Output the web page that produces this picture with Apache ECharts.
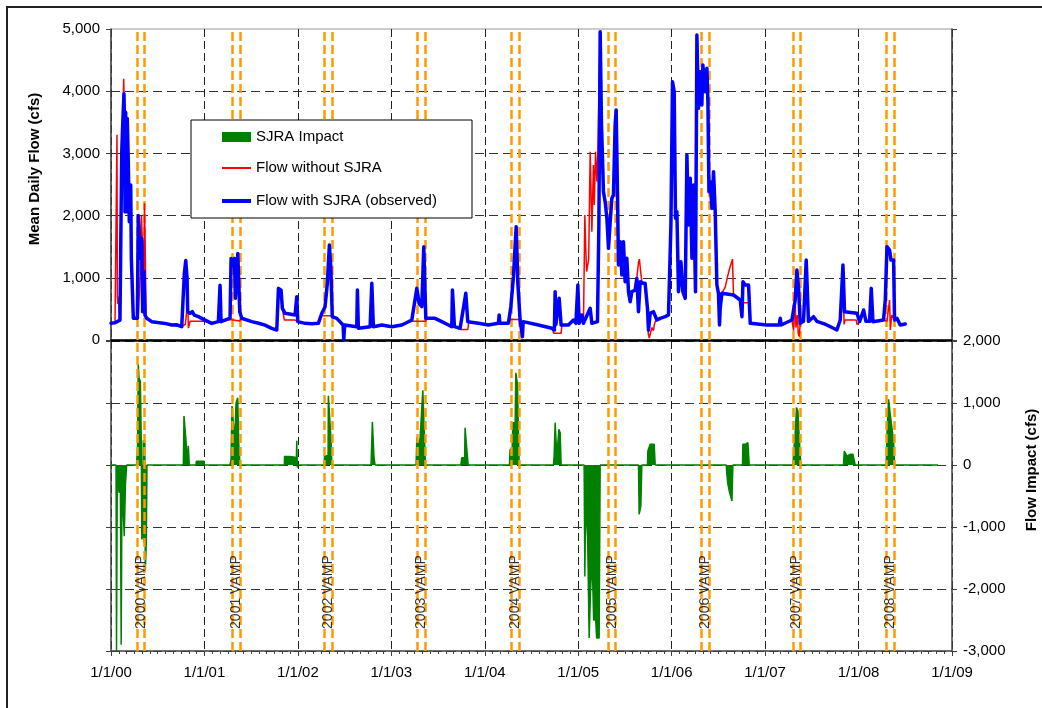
<!DOCTYPE html>
<html>
<head>
<meta charset="utf-8">
<script src="https://cdn.jsdelivr.net/npm/echarts@6/dist/echarts.min.js"></script>
<style>
html,body{margin:0;padding:0;background:#fff;}
#chart{width:1042px;height:708px;}
</style>
</head>
<body>
<div id="chart"></div>
<script>
// ---- data (x = decimal year) ----
const xTickLabels = ['1/1/00','1/1/01','1/1/02','1/1/03','1/1/04','1/1/05','1/1/06','1/1/07','1/1/08','1/1/09'];
const vampLabels = ['2000 VAMP','2001 VAMP','2002 VAMP','2003 VAMP','2004 VAMP','2005 VAMP','2006 VAMP','2007 VAMP','2008 VAMP'];
const vampStart = [2000.278,2001.295,2002.280,2003.279,2004.282,2005.317,2006.323,2007.297,2008.296];
const vampEnd   = [2000.364,2001.381,2002.366,2003.361,2004.368,2005.403,2006.402,2007.375,2008.379];
const seriesNames = ['SJRA Impact','Flow without SJRA','Flow with SJRA (observed)'];

const flowWithSJRA = [
[2000.000,268],[2000.043,278],[2000.096,320],[2000.107,350],[2000.115,3020],[2000.125,3450],[2000.139,3960],[2000.145,3450],[2000.150,2060],[2000.157,3660],[2000.168,2060],[2000.174,3560],[2000.185,2860],[2000.196,1900],[2000.211,2490],[2000.218,1300],[2000.230,1300],[2000.239,350],[2000.257,320],[2000.282,350],[2000.292,2000],[2000.307,2000],[2000.318,1310],[2000.329,1630],[2000.339,455],[2000.353,1100],[2000.364,400],[2000.382,350],[2000.436,295],[2000.500,280],[2000.578,267],[2000.650,240],[2000.700,245],[2000.757,215],[2000.778,190],[2000.785,1070],[2000.800,1280],[2000.814,990],[2000.821,455],[2000.846,430],[2000.870,455],[2000.892,400],[2000.935,375],
[2001.006,320],[2001.078,267],[2001.149,295],[2001.167,880],[2001.178,295],[2001.274,350],[2001.285,1310],[2001.303,1200],[2001.321,1310],[2001.331,670],[2001.357,1390],[2001.378,455],[2001.399,350],[2001.506,295],[2001.580,270],[2001.649,240],[2001.720,187],[2001.774,160],[2001.792,830],[2001.820,800],[2001.834,509],[2001.863,429],[2001.970,402],[2001.988,697],[2001.999,295],
[2002.077,268],[2002.150,260],[2002.219,268],[2002.256,430],[2002.291,536],[2002.315,911],[2002.337,1527],[2002.352,1179],[2002.368,375],[2002.416,348],[2002.484,241],[2002.491,0],[2002.500,241],[2002.630,214],[2002.637,804],[2002.647,188],[2002.773,214],[2002.791,911],[2002.808,214],[2002.898,241],
[2003.005,214],[2003.112,241],[2003.219,321],[2003.273,830],[2003.297,590],[2003.326,536],[2003.347,1500],[2003.369,348],[2003.468,348],[2003.540,295],[2003.611,241],[2003.647,214],[2003.654,804],[2003.675,214],[2003.736,188],[2003.797,750],[2003.818,295],[2003.932,268],
[2004.039,241],[2004.146,268],[2004.154,402],[2004.161,268],[2004.253,268],[2004.279,536],[2004.307,1018],[2004.336,1822],[2004.354,911],[2004.378,321],[2004.403,54],[2004.411,295],[2004.574,241],[2004.718,188],[2004.745,161],[2004.753,777],[2004.761,250],[2004.796,670],[2004.817,241],[2004.895,241],[2004.949,321],[2004.975,268],[2004.996,884],
[2005.010,268],[2005.039,402],[2005.056,268],[2005.128,509],[2005.146,268],[2005.206,295],[2005.221,1850],[2005.235,4957],[2005.249,3457],[2005.260,2920],[2005.270,2385],[2005.288,2224],[2005.307,1956],[2005.324,1474],[2005.342,1903],[2005.360,2278],[2005.377,2331],[2005.395,3457],[2005.406,3698],[2005.420,2385],[2005.431,1206],[2005.449,1581],[2005.467,1045],[2005.484,1581],[2005.502,938],[2005.520,1313],[2005.538,777],[2005.556,616],[2005.574,777],[2005.609,800],[2005.627,991],[2005.645,455],[2005.663,938],[2005.692,911],[2005.716,911],[2005.741,509],[2005.752,160],[2005.770,429],[2005.805,455],[2005.842,322],[2005.877,348],[2005.931,375],[2005.966,402],[2005.992,1850],
[2006.009,4153],[2006.027,3993],[2006.041,1956],[2006.056,2063],[2006.073,777],[2006.099,1259],[2006.120,777],[2006.145,670],[2006.163,2974],[2006.180,1850],[2006.199,2600],[2006.217,1313],[2006.234,2492],[2006.255,777],[2006.270,4903],[2006.287,3725],[2006.305,4314],[2006.323,3778],[2006.334,4421],[2006.359,3993],[2006.377,4368],[2006.388,3832],[2006.399,2385],[2006.412,2545],[2006.431,2117],[2006.448,2706],[2006.466,2063],[2006.484,884],[2006.501,750],[2006.512,241],[2006.519,500],[2006.537,750],[2006.555,723],[2006.662,723],[2006.734,643],[2006.752,375],[2006.763,938],[2006.787,884],[2006.823,884],[2006.841,268],[2006.859,241],
[2007.019,241],[2007.151,241],[2007.162,348],[2007.172,241],[2007.287,321],[2007.322,643],[2007.340,1125],[2007.357,857],[2007.376,268],[2007.411,300],[2007.440,1286],[2007.464,300],[2007.518,375],[2007.554,300],[2007.650,250],[2007.732,188],[2007.768,161],[2007.804,321],[2007.833,1206],[2007.850,455],[2007.983,429],
[2008.011,295],[2008.054,482],[2008.079,300],[2008.118,300],[2008.136,830],[2008.154,295],[2008.267,321],[2008.286,643],[2008.304,1500],[2008.332,1447],[2008.347,1286],[2008.375,1286],[2008.385,321],[2008.411,348],[2008.446,241],[2008.500,257]
];

const flowWithoutSJRA = [
[2000.000,268],[2000.043,278],[2000.058,300],[2000.064,3300],[2000.068,700],[2000.074,580],[2000.080,700],[2000.090,350],[2000.107,350],[2000.115,3020],[2000.125,3450],[2000.136,4200],[2000.145,3450],[2000.150,2060],[2000.157,3660],[2000.168,2060],[2000.174,3560],[2000.185,2860],[2000.196,1900],[2000.211,2490],[2000.218,1300],[2000.230,1300],[2000.239,350],[2000.257,320],[2000.282,350],[2000.292,400],[2000.305,400],[2000.312,1000],[2000.318,1500],[2000.326,2000],[2000.333,1700],[2000.340,1500],[2000.346,800],[2000.352,600],[2000.358,2200],[2000.364,1700],[2000.372,1700],[2000.376,350],[2000.382,350],[2000.436,295],[2000.578,267],[2000.650,240],[2000.757,215],[2000.778,190],[2000.795,250],[2000.815,250],[2000.822,620],[2000.828,190],[2000.846,300],[2000.935,300],
[2001.006,300],[2001.078,267],[2001.149,295],[2001.167,880],[2001.178,295],[2001.274,330],[2001.285,305],[2001.378,305],[2001.399,350],[2001.506,295],[2001.649,240],[2001.720,187],[2001.774,160],[2001.792,830],[2001.820,800],[2001.834,509],[2001.855,321],[2001.970,321],[2001.999,295],
[2002.077,268],[2002.219,268],[2002.256,390],[2002.368,391],[2002.380,375],[2002.416,348],[2002.484,241],[2002.491,0],[2002.500,241],[2002.630,214],[2002.637,804],[2002.647,188],[2002.773,214],[2002.808,214],[2002.898,241],
[2003.005,214],[2003.112,241],[2003.219,300],[2003.369,300],[2003.380,348],[2003.468,348],[2003.540,295],[2003.611,241],[2003.647,214],[2003.654,804],[2003.675,214],[2003.736,170],[2003.818,170],[2003.830,295],[2003.932,268],
[2004.039,241],[2004.146,268],[2004.154,402],[2004.161,268],[2004.253,268],[2004.270,330],[2004.378,330],[2004.385,321],[2004.403,54],[2004.411,295],[2004.574,241],[2004.718,188],[2004.740,107],[2004.817,107],[2004.825,241],[2004.895,241],[2004.949,321],[2004.975,268],[2004.996,884],
[2005.010,268],[2005.039,402],[2005.056,268],[2005.071,2010],[2005.080,1500],[2005.090,1100],[2005.112,1300],[2005.128,3028],[2005.146,1742],[2005.163,2813],[2005.172,2170],[2005.185,3028],[2005.200,2545],[2005.210,3028],[2005.221,3000],[2005.235,4957],[2005.249,3457],[2005.260,2920],[2005.270,2385],[2005.288,2224],[2005.307,1956],[2005.324,1474],[2005.342,1903],[2005.360,2278],[2005.377,2331],[2005.395,3457],[2005.406,3698],[2005.420,2385],[2005.431,1206],[2005.449,1581],[2005.467,1045],[2005.484,1581],[2005.502,938],[2005.520,1313],[2005.538,777],[2005.556,616],[2005.574,777],[2005.609,800],[2005.627,991],[2005.645,1250],[2005.655,1300],[2005.668,1100],[2005.681,938],[2005.692,911],[2005.716,911],[2005.741,509],[2005.750,100],[2005.760,30],[2005.775,120],[2005.790,200],[2005.805,150],[2005.815,250],[2005.824,300],[2005.842,322],[2005.877,348],[2005.931,375],[2005.966,402],[2005.992,1850],
[2006.009,4153],[2006.027,3993],[2006.041,1956],[2006.056,2063],[2006.073,777],[2006.099,1259],[2006.120,777],[2006.145,670],[2006.163,2974],[2006.180,1850],[2006.199,2600],[2006.217,1313],[2006.234,2492],[2006.255,777],[2006.270,4903],[2006.287,3725],[2006.305,4314],[2006.323,3778],[2006.334,4421],[2006.359,3993],[2006.377,4368],[2006.388,3832],[2006.399,2385],[2006.412,2545],[2006.431,2117],[2006.448,2706],[2006.466,2063],[2006.484,884],[2006.501,750],[2006.512,241],[2006.519,500],[2006.537,750],[2006.555,723],[2006.573,850],[2006.600,1030],[2006.620,1150],[2006.640,1170],[2006.651,1300],[2006.662,723],[2006.734,643],[2006.752,375],[2006.763,600],[2006.823,600],[2006.841,268],[2006.859,241],
[2007.019,241],[2007.151,241],[2007.162,348],[2007.172,241],[2007.287,321],[2007.305,150],[2007.320,700],[2007.330,200],[2007.345,400],[2007.355,100],[2007.365,54],[2007.376,268],[2007.411,300],[2007.440,1286],[2007.464,300],[2007.518,375],[2007.554,300],[2007.732,188],[2007.768,161],[2007.804,321],[2007.833,1206],[2007.845,250],[2007.855,321],[2007.975,321],[2007.983,250],
[2008.011,295],[2008.054,482],[2008.079,300],[2008.118,300],[2008.136,830],[2008.154,295],[2008.267,321],[2008.304,300],[2008.325,300],[2008.332,643],[2008.340,161],[2008.355,400],[2008.385,321],[2008.411,348],[2008.446,241],[2008.500,257]
];

const sjraImpact = [
[2000.000,0],[2000.054,0],[2000.059,-3000],[2000.067,-300],[2000.080,-300],[2000.089,-450],[2000.100,-300],[2000.109,-2900],[2000.118,-300],[2000.134,-300],[2000.142,-1150],[2000.155,-300],[2000.168,0],[2000.273,0],[2000.284,300],[2000.292,1630],[2000.300,1400],[2000.314,1350],[2000.324,400],[2000.330,-1200],[2000.339,-1150],[2000.346,400],[2000.353,-1250],[2000.362,400],[2000.367,-1700],[2000.378,-1250],[2000.385,0],[2000.774,0],[2000.781,790],[2000.803,390],[2000.817,0],[2000.827,310],[2000.838,0],[2000.910,0],[2000.913,60],[2000.996,60],
[2001.000,0],[2001.274,0],[2001.285,100],[2001.295,952],[2001.309,979],[2001.324,390],[2001.338,1000],[2001.356,1086],[2001.367,350],[2001.381,0],[2001.855,0],[2001.857,139],[2001.916,139],[2001.927,123],[2001.984,123],[2001.988,390],[2001.994,-40],
[2002.000,0],[2002.280,0],[2002.286,150],[2002.323,150],[2002.326,1116],[2002.344,1116],[2002.355,400],[2002.363,0],[2002.783,0],[2002.797,699],[2002.815,118],[2002.826,0],
[2003.265,0],[2003.273,441],[2003.290,306],[2003.308,441],[2003.337,1204],[2003.354,1180],[2003.365,0],[2003.744,0],[2003.754,118],[2003.784,118],[2003.789,602],[2003.807,575],[2003.822,0],
[2004.264,0],[2004.271,253],[2004.293,253],[2004.300,683],[2004.325,683],[2004.332,1489],[2004.350,1301],[2004.368,0],[2004.735,0],[2004.742,145],[2004.753,683],[2004.771,145],[2004.793,575],[2004.807,521],[2004.817,0],
[2005.063,0],[2005.071,-1800],[2005.079,-600],[2005.090,-900],[2005.101,-1200],[2005.117,-2790],[2005.133,-2000],[2005.149,-1500],[2005.165,-2500],[2005.187,-2500],[2005.197,-2790],[2005.224,-2790],[2005.235,0],[2005.645,0],[2005.652,-796],[2005.670,-661],[2005.681,0],[2005.741,0],[2005.745,226],[2005.770,333],[2005.788,306],[2005.813,333],[2005.824,0],
[2006.584,0],[2006.591,-150],[2006.602,-312],[2006.616,-419],[2006.634,-446],[2006.645,-580],[2006.655,0],[2006.758,0],[2006.762,333],[2006.787,333],[2006.816,360],[2006.830,0],
[2007.298,0],[2007.304,172],[2007.322,521],[2007.336,925],[2007.351,871],[2007.365,441],[2007.383,0],[2007.839,0],[2007.847,226],[2007.876,145],[2007.911,172],[2007.940,172],[2007.964,0],
[2008.296,0],[2008.304,495],[2008.321,1059],[2008.339,817],[2008.357,790],[2008.375,387],[2008.385,0],[2008.850,0]
];

// ---- chart ----
const FONT = "'Liberation Sans', Arial, sans-serif";
const AX = '#404040';
const GREEN = '#008000', RED = '#FF0000', BLUE = '#0000FF';
const fmtNum = v => v.toLocaleString('en-US');
const vampLines = vampStart.concat(vampEnd).map(x => ({ xAxis: x }));
const makeVampMarkLine = z => ({
  silent: true, symbol: ['none', 'none'], label: { show: false }, animation: false, z: z,
  lineStyle: { color: '#FF9900', type: [9, 4], width: 2.5 },
  data: vampLines
});

const xBase = {
  type: 'value', min: 2000, max: 2009, interval: 1,
  axisLine: { onZero: false, lineStyle: { color: AX, width: 1.5 } },
  splitLine: { show: true, lineStyle: { color: '#222', type: [8, 4], width: 1 } }
};
const yTick = { show: true, length: 5, lineStyle: { color: AX, width: 1 } };

const legendBase = (name, color, h, top) => ({
  left: 222, top: top, orient: 'vertical', padding: 0, itemWidth: 29, itemHeight: h,
  icon: 'rect', z: 30, selectedMode: false,
  itemStyle: { color: color, borderWidth: 0 },
  textStyle: { fontSize: 15, color: '#000', lineHeight: 16, fontFamily: FONT },
  data: [name]
});

const chart = echarts.init(document.getElementById('chart'), null, { renderer: 'canvas' });
chart.setOption({
  animation: false,
  backgroundColor: '#fff',
  textStyle: { fontFamily: FONT },
  grid: [
    { left: 111, top: 29, width: 841, height: 311, show: true, borderColor: '#999', borderWidth: 1, outerBoundsMode: 'none' },
    { left: 111, top: 341, width: 841, height: 310, outerBoundsMode: 'none' }
  ],
  xAxis: [
    Object.assign({}, xBase, {
      gridIndex: 0,
      axisLine: { onZero: false, lineStyle: { color: '#000', width: 2.5 } },
      axisTick: { show: false }, axisLabel: { show: false }
    }),
    Object.assign({}, xBase, {
      gridIndex: 1,
      axisTick: { show: true, length: 5, lineStyle: { color: AX } },
      minorTick: { show: true, splitNumber: 12, length: 3, lineStyle: { color: AX } },
      axisLabel: { show: true, margin: 14, fontSize: 15, color: '#000', fontFamily: FONT,
        formatter: v => xTickLabels[Math.round(v - 2000)] }
    })
  ],
  yAxis: [
    { type: 'value', gridIndex: 0, position: 'left', min: 0, max: 5000, interval: 1000,
      axisLine: { show: true, lineStyle: { color: AX, width: 1.5 } }, axisTick: yTick,
      axisLabel: { show: true, margin: 11, fontSize: 15, color: '#000', fontFamily: FONT, formatter: fmtNum },
      splitLine: { show: true, showMaxLine: false, lineStyle: { color: '#333', type: [9, 5], width: 1 } } },
    { type: 'value', gridIndex: 0, position: 'right', min: 0, max: 5000, interval: 1000,
      axisLine: { show: true, lineStyle: { color: AX, width: 1.5 } }, axisTick: yTick,
      axisLabel: { show: false }, splitLine: { show: false } },
    { type: 'value', gridIndex: 1, position: 'left', min: -3000, max: 2000, interval: 1000,
      axisLine: { show: true, lineStyle: { color: AX, width: 1.5 } }, axisTick: yTick,
      axisLabel: { show: false },
      splitLine: { show: true, lineStyle: { color: '#333', type: [9, 5], width: 1 } } },
    { type: 'value', gridIndex: 1, position: 'right', min: -3000, max: 2000, interval: 1000,
      axisLine: { show: true, lineStyle: { color: AX, width: 1.5 } }, axisTick: yTick,
      axisLabel: { show: true, margin: 11, fontSize: 15, color: '#000', fontFamily: FONT, formatter: fmtNum },
      splitLine: { show: false } }
  ],
  legend: [
    legendBase(seriesNames[0], GREEN, 10, 129),
    legendBase(seriesNames[1], RED, 2, 160),
    legendBase(seriesNames[2], BLUE, 4, 193)
  ],
  series: [
    { name: 'vampTop', type: 'line', xAxisIndex: 0, yAxisIndex: 0, data: [], z: 1, markLine: makeVampMarkLine(1) },
    { name: seriesNames[1], type: 'line', xAxisIndex: 0, yAxisIndex: 0, data: flowWithoutSJRA,
      symbol: 'none', z: 8, lineStyle: { color: RED, width: 1.5 }, itemStyle: { color: RED } },
    { name: seriesNames[2], type: 'line', xAxisIndex: 0, yAxisIndex: 0, data: flowWithSJRA,
      symbol: 'none', z: 9, lineStyle: { color: BLUE, width: 3.5, join: 'round', cap: 'round' }, itemStyle: { color: BLUE } },
    { name: seriesNames[0], type: 'line', xAxisIndex: 1, yAxisIndex: 3, data: sjraImpact,
      symbol: 'none', z: 2, lineStyle: { color: GREEN, width: 1.5 }, itemStyle: { color: GREEN },
      areaStyle: { color: GREEN, opacity: 1, origin: 0 } },
    { name: 'vampBottom', type: 'line', xAxisIndex: 1, yAxisIndex: 3, data: [], z: 5, markLine: makeVampMarkLine(5) },
    { name: 'vampLabels', type: 'scatter', xAxisIndex: 1, yAxisIndex: 3, z: 6, symbolSize: 0, silent: true,
      data: vampStart.map((s, i) => [(s + vampEnd[i]) / 2, -2050]),
      label: { show: true, position: 'inside', rotate: 90, fontSize: 14, color: '#000', fontFamily: FONT,
        formatter: p => vampLabels[p.dataIndex] } }
  ],
  graphic: [
    { type: 'rect', z: 25, silent: true, shape: { x: 191, y: 120, width: 281, height: 98 },
      style: { fill: '#fff', stroke: '#000', lineWidth: 1 } },
    { type: 'rect', z: 100, silent: true, shape: { x: 7, y: 7, width: 1200, height: 900 },
      style: { fill: 'none', stroke: '#222', lineWidth: 2 } },
    { type: 'text', x: 35, y: 169, rotation: Math.PI / 2, silent: true,
      style: { text: 'Mean Daily Flow (cfs)', font: "bold 15px 'Liberation Sans', Arial, sans-serif", fill: '#000',
        textAlign: 'center', textVerticalAlign: 'middle' } },
    { type: 'text', x: 1032, y: 470, rotation: Math.PI / 2, silent: true,
      style: { text: 'Flow Impact (cfs)', font: "bold 15px 'Liberation Sans', Arial, sans-serif", fill: '#000',
        textAlign: 'center', textVerticalAlign: 'middle' } }
  ]
});
</script>
</body>
</html>
